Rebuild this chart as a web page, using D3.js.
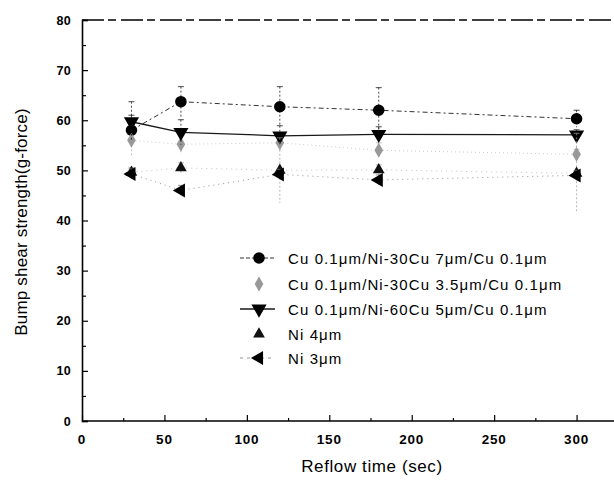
<!DOCTYPE html>
<html>
<head>
<meta charset="utf-8">
<script src="https://cdn.jsdelivr.net/npm/d3@7"></script>
<style>
body { margin: 0; background: #fff; }
svg { display: block; font-family: "Liberation Sans", Arial, sans-serif; }
</style>
</head>
<body>
<script>
var w = 614;
var h = 489;

// reflow times (sec)
var times = [30, 60, 120, 180, 300];
var seriesNames = [
	"Cu 0.1\u03bcm/Ni-30Cu 7\u03bcm/Cu 0.1\u03bcm",
	"Cu 0.1\u03bcm/Ni-30Cu 3.5\u03bcm/Cu 0.1\u03bcm",
	"Cu 0.1\u03bcm/Ni-60Cu 5\u03bcm/Cu 0.1\u03bcm",
	"Ni 4\u03bcm",
	"Ni 3\u03bcm"
];
var cu7 = [58.0, 63.7, 62.7, 62.0, 60.3];
var cu35 = [56.0, 55.2, 55.5, 54.0, 53.2];
var cu60 = [59.7, 57.6, 56.9, 57.2, 57.1];
var ni4 = [49.6, 50.5, 50.0, 50.1, 49.4];
var ni3 = [49.3, 46.0, 49.2, 48.1, 49.0];
// error bar half widths
var cu7Err = [3, 3, 4, 4.5, 1.7];
var cu35Err = [3, 2, 2, 1.5, 1];
var cu60Err = [4, 2.5, 2, 1.5, 1];
var ni4Err = [1, 1, 6.5, 1, 8];
var ni3Err = [1, 1, 1, 1, 1];

var xTicks = [0, 50, 100, 150, 200, 250, 300];
var yTicks = [0, 10, 20, 30, 40, 50, 60, 70, 80];

var svg = d3.select("body")
	.append("svg")
	.attr("width", w)
	.attr("height", h);

var x = d3.scaleLinear().domain([0, 350]).range([82, 659]);
var y = d3.scaleLinear().domain([0, 80]).range([421, 20]);

var series = [
	{ name: seriesNames[0], vals: cu7, err: cu7Err, sym: d3.symbolCircle, size: 105, rot: 0, fill: "#000", stroke: "#000", dash: "5,3,2,3", lw: 1, lineOpacity: 0.8 },
	{ name: seriesNames[1], vals: cu35, err: cu35Err, sym: d3.symbolDiamond, size: 65, rot: 0, fill: "#999", stroke: "#aaa", dash: "1,3", lw: 1, lineOpacity: 0.6 },
	{ name: seriesNames[2], vals: cu60, err: cu60Err, sym: d3.symbolTriangle, size: 100, rot: 180, fill: "#000", stroke: "#000", dash: null, lw: 1.3, lineOpacity: 0.9 },
	{ name: seriesNames[3], vals: ni4, err: ni4Err, sym: d3.symbolTriangle, size: 60, rot: 0, fill: "#111", stroke: "#999", dash: "1,4", lw: 1, lineOpacity: 0.6 },
	{ name: seriesNames[4], vals: ni3, err: ni3Err, sym: d3.symbolTriangle, size: 85, rot: -90, fill: "#000", stroke: "#666", dash: "1,4", lw: 1, lineOpacity: 0.7 }
];

// top frame line (dashed, scanned look)
svg.append("line")
	.attr("x1", x(0)).attr("x2", w)
	.attr("y1", y(80)).attr("y2", y(80))
	.attr("stroke", "#000")
	.attr("stroke-width", 1.3)
	.attr("stroke-dasharray", "22,4,8,5");

// axes with inward ticks
var yAxis = svg.append("g")
	.attr("transform", "translate(" + x(0) + ",0)")
	.call(d3.axisRight(y).tickValues(yTicks).tickSize(6).tickFormat(""));
svg.append("g")
	.attr("transform", "translate(" + x(0) + ",0)")
	.call(d3.axisRight(y).tickValues(d3.range(5, 80, 10)).tickSize(4).tickFormat(""))
	.select(".domain").remove();
var xAxis = svg.append("g")
	.attr("transform", "translate(0," + y(0) + ")")
	.call(d3.axisTop(x).tickValues(xTicks).tickSize(6).tickFormat(""));
svg.append("g")
	.attr("transform", "translate(0," + y(0) + ")")
	.call(d3.axisTop(x).tickValues([25, 75, 125, 175, 225, 275, 325]).tickSize(3).tickFormat(""))
	.select(".domain").remove();
svg.selectAll(".domain").attr("stroke-width", 1.6);
svg.selectAll(".tick line").attr("stroke-width", 1.2);
xAxis.select(".domain").attr("d", "M" + x(0) + ",0H" + w);

svg.selectAll(".ylab")
	.data(yTicks)
	.enter()
	.append("text")
	.attr("x", 71)
	.attr("y", function(d){ return y(d) + 4.5; })
	.attr("text-anchor", "end")
	.attr("font-size", 12.5)
	.attr("font-weight", "bold")
	.attr("letter-spacing", 0.3)
	.text(function(d){ return d; });

svg.selectAll(".xlab")
	.data(xTicks)
	.enter()
	.append("text")
	.attr("x", function(d){ return x(d); })
	.attr("y", 444)
	.attr("text-anchor", "middle")
	.attr("font-size", 13.5)
	.attr("font-weight", "bold")
	.attr("letter-spacing", 0.8)
	.text(function(d){ return d; });

svg.append("text")
	.attr("x", 372)
	.attr("y", 472)
	.attr("text-anchor", "middle")
	.attr("font-size", 17)
	.attr("letter-spacing", 0.6)
	.text("Reflow time (sec)");

svg.append("text")
	.attr("transform", "translate(27,222) rotate(-90)")
	.attr("text-anchor", "middle")
	.attr("font-size", 17)
	.attr("letter-spacing", 0.2)
	.text("Bump shear strength(g-force)");

// lines, error bars, markers
var line = d3.line()
	.x(function(d){ return x(d.t); })
	.y(function(d){ return y(d.v); });

series.forEach(function(s){
	var pts = times.map(function(t, i){
		return { t: t, v: s.vals[i], e: s.err[i] };
	});
	svg.append("path")
		.datum(pts)
		.attr("d", line)
		.attr("fill", "none")
		.attr("stroke", s.stroke)
		.attr("stroke-width", s.lw)
		.attr("stroke-opacity", s.lineOpacity)
		.attr("stroke-dasharray", s.dash);
	var eb = svg.append("g")
		.attr("stroke", s.stroke)
		.attr("stroke-width", 1)
		.attr("stroke-opacity", 0.7);
	eb.selectAll("line.v")
		.data(pts)
		.enter()
		.append("line")
		.attr("x1", function(d){ return x(d.t); })
		.attr("x2", function(d){ return x(d.t); })
		.attr("y1", function(d){ return y(d.v + d.e); })
		.attr("y2", function(d){ return y(d.v - d.e); })
		.attr("stroke-dasharray", "2,2");
	eb.selectAll("line.cap")
		.data(pts)
		.enter()
		.append("line")
		.attr("x1", function(d){ return x(d.t) - 3; })
		.attr("x2", function(d){ return x(d.t) + 3; })
		.attr("y1", function(d){ return y(d.v + d.e); })
		.attr("y2", function(d){ return y(d.v + d.e); });
	svg.selectAll(null)
		.data(pts)
		.enter()
		.append("path")
		.attr("d", d3.symbol().type(s.sym).size(s.size))
		.attr("transform", function(d){
			return "translate(" + x(d.t) + "," + y(d.v) + ") rotate(" + s.rot + ")";
		})
		.attr("fill", s.fill);
});

// legend
var legY = [258, 284, 309, 334, 358];
var leg = svg.selectAll(".leg")
	.data(series)
	.enter()
	.append("g")
	.attr("transform", function(d, i){ return "translate(259," + legY[i] + ")"; });
leg.append("line")
	.attr("x1", -19).attr("x2", 16)
	.attr("y1", 0).attr("y2", 0)
	.attr("stroke", function(d){ return d.stroke; })
	.attr("stroke-width", function(d){ return d.lw; })
	.attr("stroke-opacity", function(d, i){ return i == 1 || i == 3 ? 0 : d.lineOpacity; })
	.attr("stroke-dasharray", function(d, i){ return i == 0 ? "4,2" : i == 4 ? "3,4" : d.dash; });
leg.append("path")
	.attr("d", function(d){ return d3.symbol().type(d.sym).size(d.size)(); })
	.attr("transform", function(d){ return "rotate(" + d.rot + ")"; })
	.attr("fill", function(d){ return d.fill; });
leg.append("text")
	.attr("x", 29)
	.attr("y", 5.5)
	.attr("font-size", 15)
	.attr("letter-spacing", 1.1)
	.text(function(d){ return d.name; });
</script>
</body>
</html>
